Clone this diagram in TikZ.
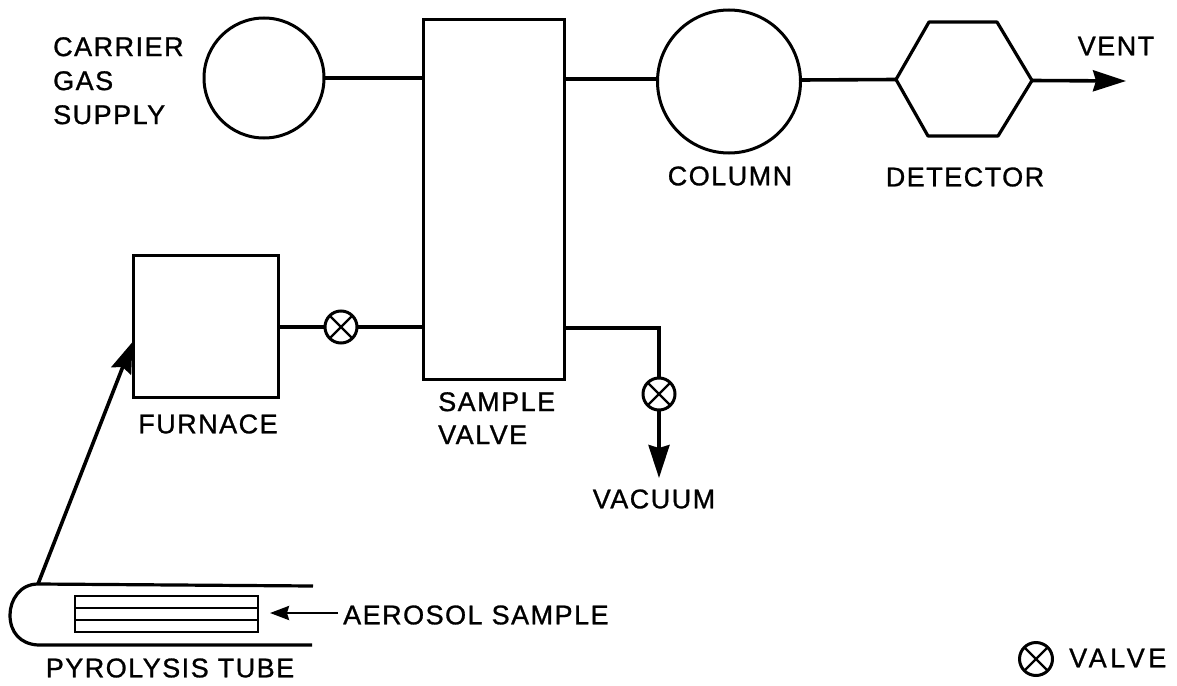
\documentclass[tikz,border=0pt]{standalone}
\usepackage{fontspec}
\setmainfont[LetterSpace=5.5,FakeBold=1]{Liberation Sans}
\newcommand{\widerspaced}{\addfontfeature{LetterSpace=13}}
\usetikzlibrary{arrows.meta}
\tikzset{
 ln/.style={line width=3.6pt,black},
 xln/.style={line width=2.4pt,black},
 arr/.style={ln,-{Stealth[length=33pt,width=21pt,inset=3pt]}},
 vlv/.style={circle,draw,line width=3pt,minimum size=32pt,inner sep=0pt,outer sep=0pt,fill=white},
 equip/.style={draw,line width=3pt,inner sep=0pt,outer sep=0pt,fill=white},
 lab/.style={font=\fontsize{27}{33}\selectfont,align=left,inner sep=0pt,text=black},
}
\begin{document}
\begin{tikzpicture}[x=1pt,y=-1pt]
\useasboundingbox[fill=white] (0,0) rectangle (1177,685);
% piping anchor points
\coordinate (colL) at (729,79);
\coordinate (colR) at (729,80);
\coordinate (hl) at (896,79.5);
\coordinate (hr) at (1032,80.5);
\coordinate (ventEnd) at (1126,81);
\coordinate (bend) at (659,328);
\coordinate (vacEnd) at (659,478);
\coordinate (tt) at (38,584);
\coordinate (furnEnd) at (132.5,342);
\coordinate (ttR) at (313,586);
\coordinate (tbR) at (312,645);
% equipment
\node[equip,circle,minimum size=120pt] (carrier) at (264,78) {};
\node[equip,rectangle,minimum width=141pt,minimum height=359pt] (sv) at (494,199.5) {};
\node[equip,circle,minimum size=143pt] (column) at (729,81.5) {};
\node[equip,rectangle,minimum width=145pt,minimum height=142pt] (furnace) at (205.5,326) {};
\draw[line width=3.2pt,line join=round] (hl) -- (929,22) -- (997,22) -- (hr) -- (998,136) -- (928,136) -- cycle;
% valves
\node[vlv] (v1) at (341,327) {};
\node[vlv] (v2) at (659,394) {};
\foreach \v in {v1,v2}{
 \draw[xln] (\v.45) -- (\v.225);
 \draw[xln] (\v.135) -- (\v.315);
}
% piping
\draw[ln] (carrier.east) -- (carrier.east -| sv.west);
\draw[ln] (sv.east |- colL) -- (column.west |- colL);
\draw[ln] (column.east |- colR) -- (hl);
\draw[arr] (hr) -- (ventEnd);
\draw[ln] (furnace.east |- v1) -- (v1.west);
\draw[ln] (v1.east) -- (sv.west |- v1);
\draw[ln,line join=miter] (sv.east |- bend) -- (bend) -- (v2.north -| bend);
\draw[arr] (v2.south -| bend) -- (vacEnd);
% pyrolysis tube
\draw[line width=3.2pt,line join=round] (ttR) -- (tt) .. controls (20,584) and (10,600) .. (10,615) .. controls (10,632) and (20,644) .. (38,645) -- (tbR);
\draw[ln,-{Stealth[length=31pt,width=21pt,inset=4pt]}] (tt) -- (furnEnd);
% aerosol sample
\node[draw,line width=2.4pt,minimum width=183pt,minimum height=36pt,inner sep=0pt,outer sep=0pt] (sample) at (166.5,614) {};
\draw[line width=2.4pt] ([yshift=-6pt]sample.west) -- ([yshift=-6pt]sample.east);
\draw[line width=2.4pt] ([yshift=6pt]sample.west) -- ([yshift=6pt]sample.east);
\node[lab,anchor=west] (aer) at (343,615) {AEROSOL SAMPLE};
\draw[line width=2.6pt,-{Stealth[length=19pt,width=14pt,inset=2pt]}] ([xshift=-5pt,yshift=2pt]aer.west) -- ([xshift=12pt,yshift=2pt]sample.east |- aer.west);
% labels
\node[lab,anchor=north west,font=\fontsize{27}{34}\selectfont] (cl) at (53,37) {CARRIER\\GAS\\SUPPLY};
\node[lab] (coll) at (730,176) {COLUMN};
\node[lab] (detl) at (965,177) {DETECTOR};
\node[lab] (vent) at (1116,46) {VENT};
\node[lab] (furl) at (208,424) {FURNACE};
\node[lab,anchor=north west] (svl) at (438,392) {SAMPLE\\VALVE};
\node[lab] (vac) at (654,499) {VACUUM};
\node[lab] (pyr) at (170,668) {PYROLYSIS TUBE};
\node[vlv,minimum size=33pt] (vk) at (1036,659) {};
\draw[xln] (vk.45) -- (vk.225);
\draw[xln] (vk.135) -- (vk.315);
\node[lab,anchor=west,font=\fontsize{27}{33}\selectfont\widerspaced] (vkl) at (1069,658) {VALVE};
\end{tikzpicture}
\end{document}
